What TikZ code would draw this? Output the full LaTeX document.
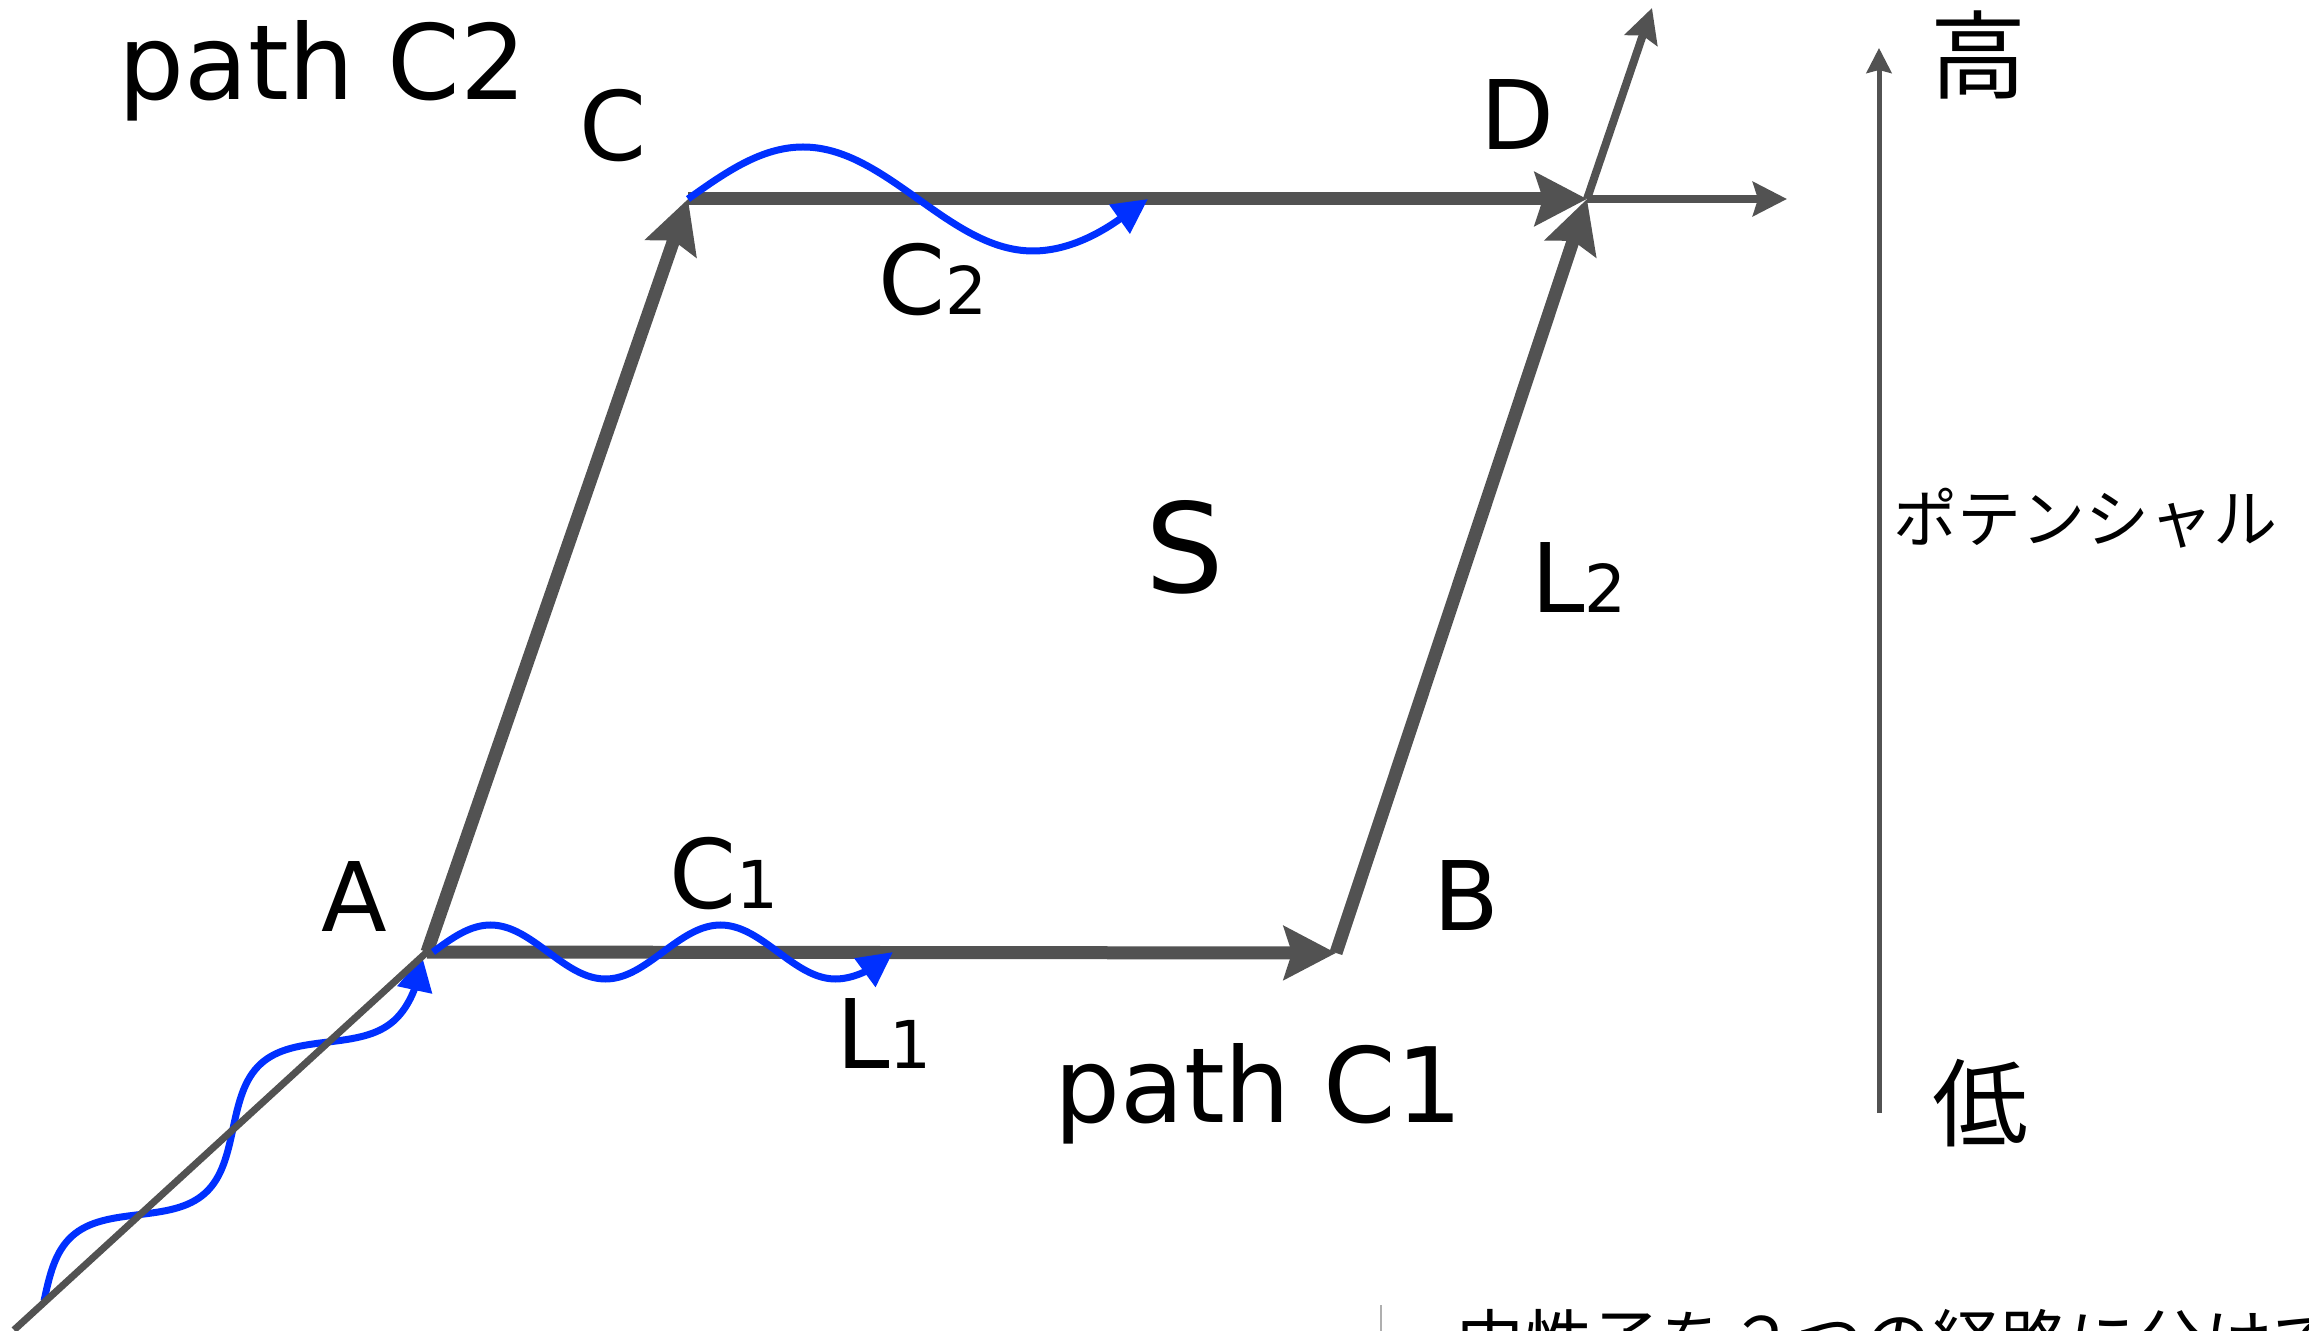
\documentclass[tikz,border=0pt]{standalone}
\usepackage{fontspec}
\setmainfont{DejaVu Sans}
\newfontfamily\jafont{Noto Sans CJK JP}
\usetikzlibrary{arrows.meta}
\definecolor{lg}{RGB}{82,82,82}
\definecolor{wb}{RGB}{0,48,255}
\definecolor{sepgray}{RGB}{175,175,175}
\newcommand\subdig[1]{{\fontsize{33pt}{40pt}\selectfont #1}}
\begin{document}
\begin{tikzpicture}[x=0.5pt,y=-0.5pt,
  rim/.style={draw=lg, line width=6.5pt, -{Stealth[length=26pt,width=26.5pt,inset=4pt]}},
  outarrow/.style={draw=lg, line width=4pt, -{Stealth[length=17pt,width=17pt,inset=2.5pt]}},
  axisarrow/.style={draw=lg, line width=2.5pt, -{Stealth[length=12.5pt,width=12.5pt,inset=1.5pt]}},
  wavearrow/.style={draw=wb, line width=3.5pt, -{Triangle[length=17.5pt,width=17pt]}},
  vlabel/.style={inner sep=0pt, anchor=base, font=\fontsize{48pt}{58pt}\selectfont},
  sublabel/.style={inner sep=0pt, anchor=base west, font=\fontsize{48pt}{58pt}\selectfont},
  pathlabel/.style={inner sep=0pt, anchor=base west, font=\fontsize{52pt}{62pt}\selectfont},
  jabig/.style={inner sep=0pt, font=\fontsize{48pt}{58pt}\jafont},
  jamid/.style={inner sep=0pt, font=\fontsize{32pt}{40pt}\jafont},
  jabottom/.style={inner sep=0pt, anchor=base west, font=\fontsize{34pt}{40pt}\jafont},
]
\path[use as bounding box] (0,0) rectangle (2309,1331);
\clip (0,0) rectangle (2309,1331);

% vertices
\coordinate (A) at (427,952);
\coordinate (B) at (1336,953);
\coordinate (C) at (688,199);
\coordinate (D) at (1587,199);
\coordinate (Dup) at (1652,8);
\coordinate (Dright) at (1787,199);
\coordinate (Z) at (14,1330);
\coordinate (Pbot) at (1879,1113);
\coordinate (Ptop) at (1879,48);
\coordinate (W1) at (44,1301);
\coordinate (W2) at (433,952);
\coordinate (W3) at (688,199);
\coordinate (Sa) at (1381,1305);
\coordinate (Sb) at (1381,1340);

% parallelogram
\draw[rim] (A) -- (B);
\draw[rim] (A) -- (C);
\draw[rim] (C) -- (D);
\draw[rim] (B) -- (D);

% outgoing arrows at D
\draw[outarrow] (D) -- (Dup);
\draw[outarrow] (D) -- (Dright);

% waves
\draw[wavearrow] (W2) sin (490.5,925) cos (548,952) sin (605.5,979) cos (663,952)
   sin (720.5,925) cos (778,952) sin (835.5,979) cos (893,952);
\draw[wavearrow] (W3) sin (803,147) cos (918,199) sin (1033,251) cos (1148,199);
\begin{scope}[shift={(W1)}, rotate=42.4]
  \draw[wavearrow] (0,0) sin (64,-29) cos (128,0) sin (192,29) cos (256,0)
     sin (320,-29) cos (384,0) sin (448,29) cos (512,0);
\end{scope}

% incoming diagonal line
\draw[draw=lg, line width=3.5pt] (A) -- (Z);

% potential axis
\draw[axisarrow] (Pbot) -- (Ptop);
\node[jabig] (hi) at (1978,55) {高};
\node[jabig] (lo) at (1980,1103) {低};
\node[jamid] (pot) at (2085,518) {ポテンシャル};

% labels
\node[pathlabel] (pC2) at (118,100) {path C2};
\node[pathlabel] (pC1) at (1054,1122) {path C1};
\node[vlabel] (lA) at (354,931) {A};
\node[vlabel] (lB) at (1466,930) {B};
\node[vlabel] (lC) at (613,161) {C};
\node[vlabel] (lD) at (1517,150) {D};
\node[inner sep=0pt, anchor=base, font=\fontsize{62pt}{70pt}\selectfont] (lS) at (1185,593) {S};
\node[sublabel] (lL2) at (1531,613) {L\subdig{2}};
\node[sublabel] (lL1) at (836,1068) {L\subdig{1}};
\node[sublabel] (lC1) at (669,908) {C\subdig{1}};
\node[sublabel] (lC2) at (878,315) {C\subdig{2}};

% bottom (cut-off) caption
\draw[draw=sepgray, line width=1pt] (Sa) -- (Sb);
\node[jabottom] (cap) at (1456,1366) {中性子を２つの経路に分けて};
\end{tikzpicture}
\end{document}
